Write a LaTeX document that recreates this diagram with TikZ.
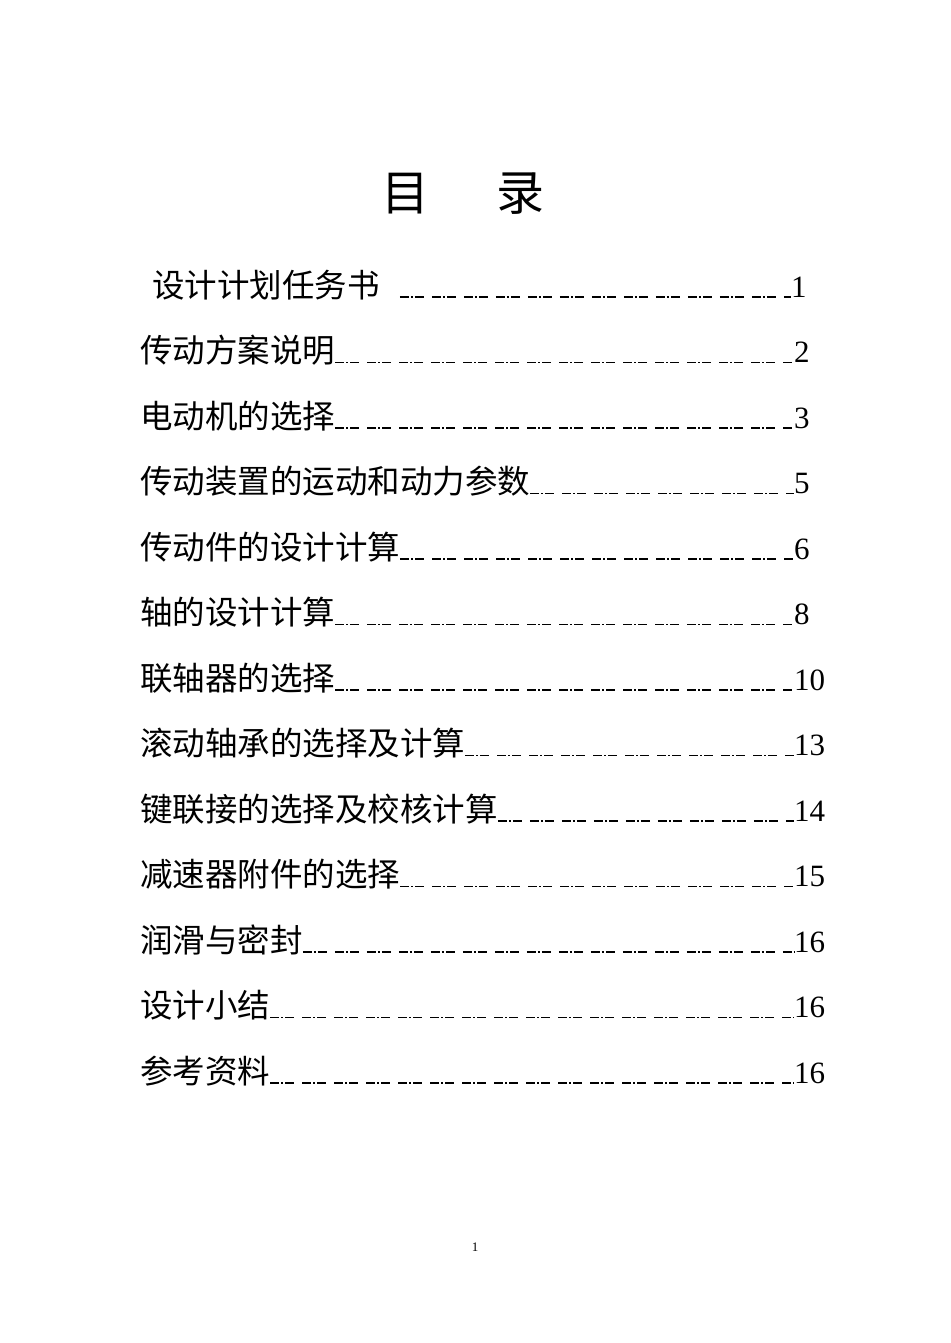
\documentclass[tikz,border=0pt]{standalone}
\usepackage{fontspec}
\setmainfont{Liberation Serif}
\newfontfamily\cjk{Noto Sans CJK SC}
\usetikzlibrary{positioning}

\tikzset{
  entry/.style={anchor=base west, inner sep=0pt, font=\cjk\fontsize{32.5}{34}\selectfont},
  pagenum/.style={anchor=base west, inner sep=0pt, font=\fontsize{31}{33}\selectfont},
  leader/.style={line width=1.3pt, dash pattern=on 9pt off 2pt on 2pt off 2pt on 9pt off 8pt}
}

\begin{document}
\begin{tikzpicture}[x=1pt, y=-1pt]
\useasboundingbox (0,0) rectangle (950,1343);
\node[anchor=base, inner sep=0pt, font=\cjk\fontsize{48}{52}\selectfont] (title) at (463,211) {目\hspace{1.4em}录};

% table of contents
\node[entry] (t1) at (152,297) {设计计划任务书};
\node[pagenum] (n1) at (791,297) {1};
\draw[leader] ([xshift=20pt]t1.base east) -- (n1.base west);
\foreach \i/\txt/\pg in {2/传动方案说明/2, 3/电动机的选择/3, 4/传动装置的运动和动力参数/5,
  5/传动件的设计计算/6, 6/轴的设计计算/8, 7/联轴器的选择/10, 8/滚动轴承的选择及计算/13,
  9/键联接的选择及校核计算/14, 10/减速器附件的选择/15, 11/润滑与密封/16,
  12/设计小结/16, 13/参考资料/16}{
  \node[entry] (t\i) at (140,{297+65.5*(\i-1)}) {\txt};
  \node[pagenum] (n\i) at (794,{297+65.5*(\i-1)}) {\pg};
  \draw[leader] (t\i.base east) -- (n\i.base west);
}

\node[font=\fontsize{13}{15}\selectfont] (folio) at (475,1247) {1};
\end{tikzpicture}
\end{document}
